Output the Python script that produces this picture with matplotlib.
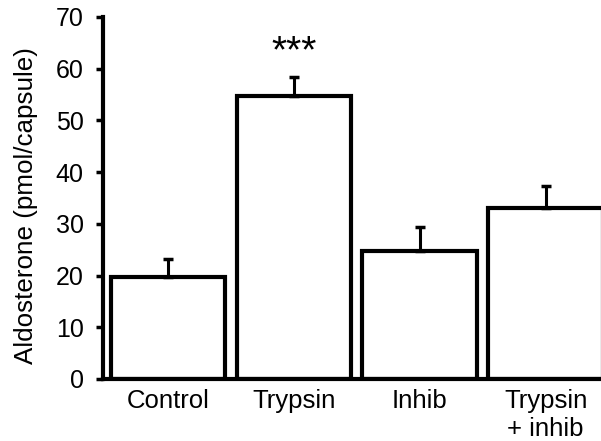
import numpy as np
import matplotlib.pyplot as plt

categories = ["Control", "Trypsin", "Inhib", "Trypsin\n+ inhib"]
means = [19.7, 54.7, 24.8, 33.1]
errors = [3.5, 3.7, 4.6, 4.2]
yticks = [0, 10, 20, 30, 40, 50, 60, 70]

plt.rcParams['font.family'] = ['Liberation Sans', 'DejaVu Sans']

fig = plt.figure(figsize=(6.01, 4.41), dpi=100)
ax = fig.add_axes([103 / 601, 62 / 441, 1 - 103 / 601, 362 / 441])

x = np.arange(len(categories))
ax.bar(x, means, width=0.91, color='white', edgecolor='black', linewidth=3, zorder=2)
ax.errorbar(x, means, yerr=[np.zeros(len(means)), errors], fmt='none',
            ecolor='black', elinewidth=2.2, capsize=3.5, capthick=2.5, zorder=3)

ax.text(1, 61.2, "***", ha='center', va='baseline', fontsize=28)

ax.set_xlim(-0.516, 3.44)
ax.set_ylim(0, 70)
ax.set_yticks(yticks)
ax.set_xticks(x)
ax.set_xticklabels(categories, fontsize=18.5, linespacing=1.25)
ax.tick_params(axis='x', length=0, pad=7)
ax.tick_params(axis='y', labelsize=18, width=2.5, length=5, pad=9)
ax.set_ylabel("Aldosterone (pmol/capsule)", fontsize=18.7)
ax.yaxis.set_label_coords(-65 / 498, 0.48)

for s in ['top', 'right']:
    ax.spines[s].set_visible(False)
for s in ['left', 'bottom']:
    ax.spines[s].set_linewidth(3)
ax.spines['left'].set_zorder(4)

fig.savefig("out.png", dpi=100)
